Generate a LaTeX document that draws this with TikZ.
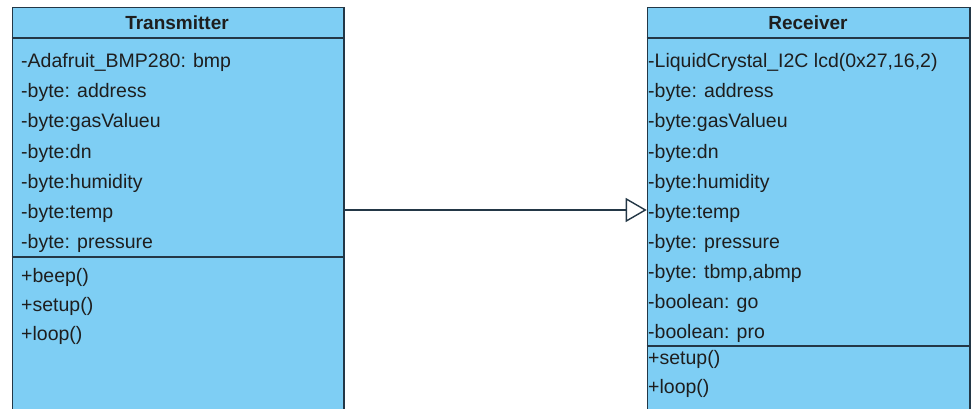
\documentclass[tikz,border=0pt]{standalone}
\usepackage{fontspec}
\setmainfont{Liberation Sans}
\usetikzlibrary{arrows.meta}
\definecolor{clsfill}{RGB}{126,206,244}
\definecolor{clsline}{RGB}{35,55,70}
\definecolor{txt}{RGB}{30,30,30}
\tikzset{
  clsbox/.style={draw=clsline, fill=clsfill, line width=1.5pt, inner sep=0pt, anchor=north west},
  sepline/.style={draw=clsline, line width=1.5pt},
  row/.style={anchor=base west, inner sep=0pt, text height=16pt, text depth=0pt, text=txt,
              font=\fontsize{19.5}{20}\selectfont},
  head/.style={anchor=base, inner sep=0pt, text=txt, font=\fontsize{19}{20}\selectfont\bfseries},
  gen/.style={draw=clsline, line width=1.4pt, -{Triangle[open, fill=white, length=21pt, width=24pt, line width=1.4pt]}}
}
\begin{document}
\begin{tikzpicture}[x=1pt, y=-1pt]
\useasboundingbox (0,0) rectangle (972,409);
\clip (0,0) rectangle (972,409);
% Transmitter
\node[clsbox, minimum width=331.3pt, minimum height=430pt] (trans) at (11.7,7) {};
\coordinate (th) at (0,38);
\coordinate (td) at (0,257);
\draw[sepline] (trans.west |- th) -- (trans.east |- th);
\draw[sepline] (trans.west |- td) -- (trans.east |- td);
\node[head] (tname) at (177,30) {Transmitter};
\node[row] (t1) at (21,68) {-Adafruit\_BMP280: bmp};
\node[row] (t2) at (21,98) {-byte: address};
\node[row] (t3) at (21,128) {-byte:gasValueu};
\node[row] (t4) at (21,158) {-byte:dn};
\node[row] (t5) at (21,188) {-byte:humidity};
\node[row] (t6) at (21,218) {-byte:temp};
\node[row] (t7) at (21,248) {-byte: pressure};
\node[row] (tm1) at (21,282) {+beep()};
\node[row] (tm2) at (21,311) {+setup()};
\node[row] (tm3) at (21,340) {+loop()};
% Receiver
\node[clsbox, minimum width=322.3pt, minimum height=430pt] (recv) at (646.7,7) {};
\coordinate (rh) at (0,38);
\coordinate (rd) at (0,346);
\draw[sepline] (recv.west |- rh) -- (recv.east |- rh);
\draw[sepline] (recv.west |- rd) -- (recv.east |- rd);
\node[head] (rname) at (808,30) {Receiver};
\node[row] (r1) at (648,68) {-LiquidCrystal\_I2C lcd(0x27,16,2)};
\node[row] (r2) at (648,98) {-byte: address};
\node[row] (r3) at (648,128) {-byte:gasValueu};
\node[row] (r4) at (648,158) {-byte:dn};
\node[row] (r5) at (648,188) {-byte:humidity};
\node[row] (r6) at (648,218) {-byte:temp};
\node[row] (r7) at (648,248) {-byte: pressure};
\node[row] (r8) at (648,278) {-byte: tbmp,abmp};
\node[row] (r9) at (648,308) {-boolean: go};
\node[row] (r10) at (648,338) {-boolean: pro};
\node[row] (rm1) at (648,364) {+setup()};
\node[row] (rm2) at (648,393) {+loop()};
% Generalization connector
\draw[gen] (trans.east |- t6) -- (recv.west |- r6);
\end{tikzpicture}
\end{document}
